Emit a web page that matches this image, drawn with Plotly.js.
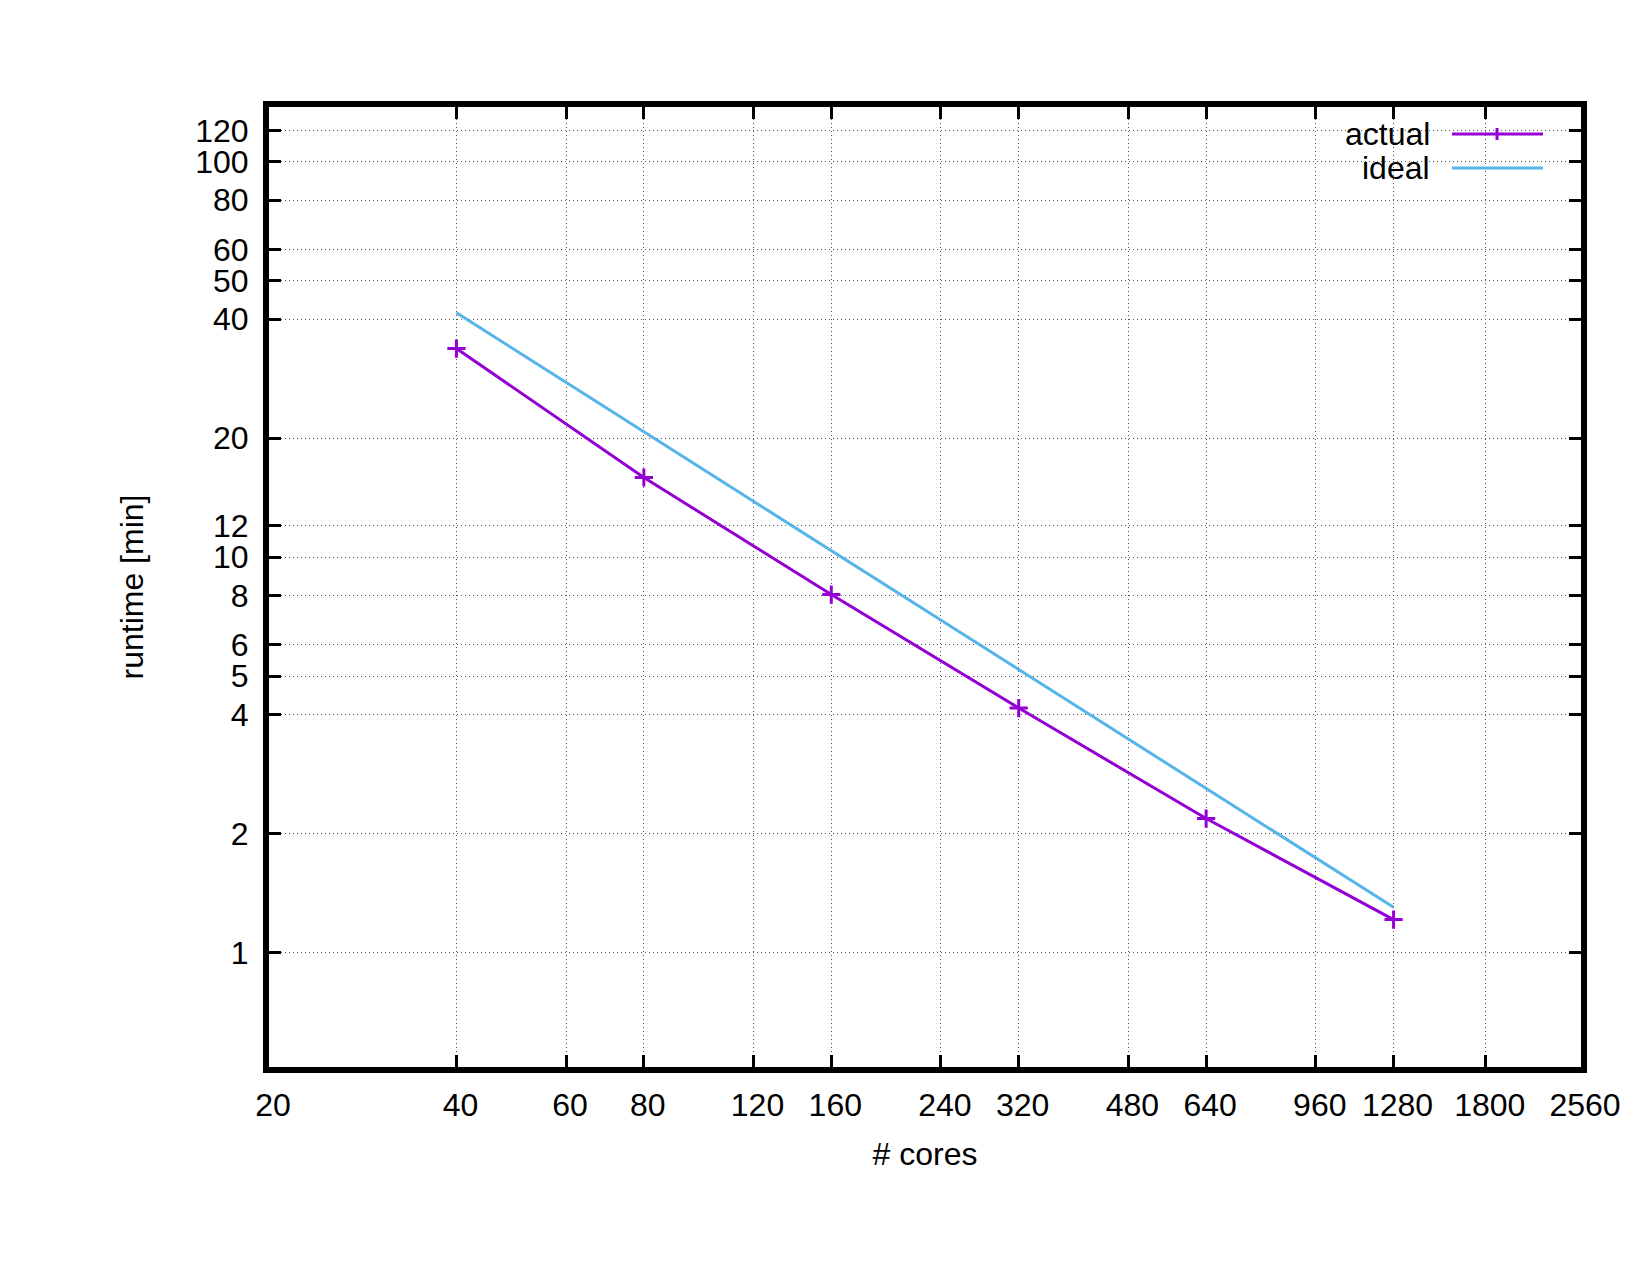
<!DOCTYPE html>
<html>
<head>
<meta charset="utf-8">
<script src="https://cdn.plot.ly/plotly-3.0.1.min.js"></script>
<style>html,body{margin:0;padding:0;background:#fff;}#chart{width:1650px;height:1275px;}</style>
</head>
<body>
<div id="chart"></div>
<script>
// ---- data ----
const cores = [40, 80, 160, 320, 640, 1280];
const actualRuntime = [33.7, 15.9, 8.04, 4.15, 2.18, 1.21];
const idealRuntime = [41.5, 20.75, 10.38, 5.19, 2.59, 1.30];
const xTickVals = [20, 40, 60, 80, 120, 160, 240, 320, 480, 640, 960, 1280, 1800, 2560];
const xTickText = ["20", "40", "60", "80", "120", "160", "240", "320", "480", "640", "960", "1280", "1800", "2560"];
const yTickVals = [1, 2, 4, 5, 6, 8, 10, 12, 20, 40, 50, 60, 80, 100, 120];
const yTickText = ["1", "2", "4", "5", "6", "8", "10", "12", "20", "40", "50", "60", "80", "100", "120"];
const seriesNames = ["actual", "ideal"];

const FONT = "Liberation Sans, Arial, Helvetica, sans-serif";
const PURPLE = "#9400D3";
const CYAN = "#56B4E9";

const traces = [
  {
    x: cores, y: actualRuntime, name: seriesNames[0], type: "scatter", mode: "lines+markers",
    line: {color: PURPLE, width: 3},
    marker: {symbol: "cross-thin-open", size: 13, color: PURPLE, line: {color: PURPLE, width: 3}},
    showlegend: false
  },
  {
    x: cores, y: idealRuntime, name: seriesNames[1], type: "scatter", mode: "lines",
    line: {color: CYAN, width: 3},
    showlegend: false
  }
];

const axisCommon = {
  type: "log",
  tickmode: "array",
  showline: true, linecolor: "#000", linewidth: 6, mirror: "allticks",
  ticks: "inside", ticklen: 12, tickwidth: 3, tickcolor: "#000",
  showgrid: true, gridcolor: "#555", gridwidth: 1, griddash: "1px,3px",
  zeroline: false,
  tickfont: {family: FONT, size: 32, color: "#000"}
};

const layout = {
  width: 1650, height: 1275,
  margin: {l: 269, r: 69, t: 107, b: 208},
  paper_bgcolor: "#fff", plot_bgcolor: "#fff",
  font: {family: FONT, size: 32, color: "#000"},
  xaxis: Object.assign({}, axisCommon, {
    range: [Math.log10(20), Math.log10(2560)],
    tickvals: xTickVals, ticktext: xTickText,
    ticklabelstandoff: 5, ticklabelshift: 4,
    title: {text: "# cores", font: {family: FONT, size: 32, color: "#000"}, standoff: 22}
  }),
  yaxis: Object.assign({}, axisCommon, {
    range: [-0.2902, 2.1389],
    tickvals: yTickVals, ticktext: yTickText,
    ticklabelstandoff: 8,
    title: {text: "runtime [min]", font: {family: FONT, size: 32, color: "#000"}, standoff: 44}
  }),
  shapes: [
    {type: "rect", xref: "paper", yref: "paper", x0: 0.7912, x1: 0.9863, y0: 0.9167, y1: 1.0,
     fillcolor: "#fff", line: {width: 0}, layer: "between"},
    {type: "line", xref: "paper", yref: "paper", x0: 0.9017, x1: 0.9710, y0: 0.9719, y1: 0.9719,
     line: {color: PURPLE, width: 3}, layer: "above"},
    {type: "line", xref: "paper", yref: "paper", x0: 0.9360, x1: 0.9360, y0: 0.9656, y1: 0.9781,
     line: {color: PURPLE, width: 3}, layer: "above"},
    {type: "line", xref: "paper", yref: "paper", x0: 0.9017, x1: 0.9710, y0: 0.9365, y1: 0.9365,
     line: {color: CYAN, width: 3}, layer: "above"}
  ],
  annotations: [
    {xref: "paper", yref: "paper", x: 0.8864, y: 0.9719, xanchor: "right", yanchor: "middle",
     text: seriesNames[0], showarrow: false, font: {family: FONT, size: 32, color: "#000"}},
    {xref: "paper", yref: "paper", x: 0.8864, y: 0.9365, xanchor: "right", yanchor: "middle",
     text: seriesNames[1], showarrow: false, font: {family: FONT, size: 32, color: "#000"}}
  ]
};

Plotly.newPlot("chart", traces, layout, {displayModeBar: false, staticPlot: true});
</script>
</body>
</html>
